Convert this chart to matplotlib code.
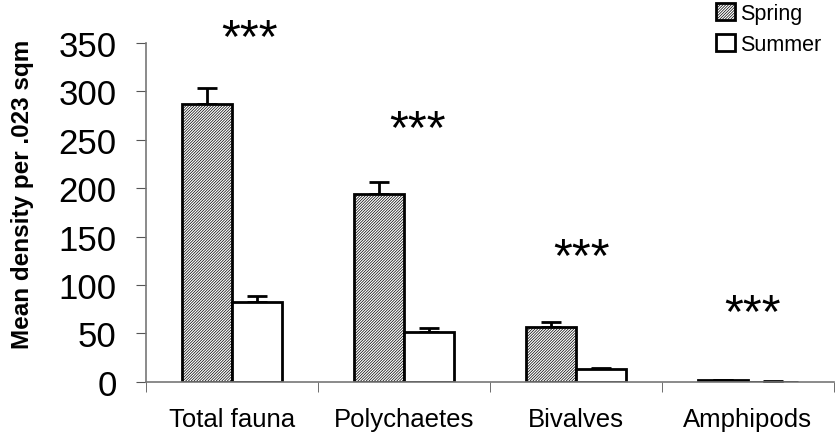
import matplotlib
matplotlib.use("Agg")
import matplotlib.pyplot as plt
import numpy as np

plt.rcParams['font.family'] = ['Liberation Sans', 'DejaVu Sans']
plt.rcParams['hatch.color'] = '#9a9a9a'
plt.rcParams['hatch.linewidth'] = 0.5

categories = ['Total fauna', 'Polychaetes', 'Bivalves', 'Amphipods']
spring = [287, 194, 57, 1.5]
spring_err = [16, 12.5, 5, 0.4]
summer = [82.5, 51, 13, 0.3]
summer_err = [6.5, 5, 1.5, 0.2]
# significance stars: position along the category axis and height
star_x = [0.105, 1.08, 2.035, 3.03]
star_y = [354, 261, 128, 71]

x = np.arange(len(categories))
w = 0.29

fig = plt.figure(figsize=(8.38, 4.39), dpi=100)
ax = fig.add_axes([0.174, 0.128, 0.821, 0.772])

ax.bar(x - w / 2, spring, w, color='white', edgecolor='black', linewidth=2,
       hatch='/' * 12, label='Spring', zorder=2)
ax.bar(x + w / 2, summer, w, color='white', edgecolor='black', linewidth=2,
       label='Summer', zorder=2)
ax.errorbar(x - w / 2, spring, yerr=[np.zeros(4), spring_err], fmt='none',
            ecolor='black', elinewidth=2, capsize=7, capthick=2, zorder=1)
ax.errorbar(x + w / 2, summer, yerr=[np.zeros(4), summer_err], fmt='none',
            ecolor='black', elinewidth=2, capsize=7, capthick=2, zorder=1)

for xs, ys in zip(star_x, star_y):
    ax.text(xs, ys, '***', ha='center', va='center', fontsize=35,
            clip_on=False)

ax.set_xlim(-0.5, 3.5)
ax.set_ylim(0, 350)
ax.set_yticks(np.arange(0, 351, 50))
ax.tick_params(axis='y', labelsize=25, length=7, color='#555555', pad=14)
ax.set_xticks(x)
ax.set_xticklabels(categories, fontsize=18.5)
ax.tick_params(axis='x', which='major', length=0, pad=18)
ax.set_xticks(np.arange(-0.5, 4, 1), minor=True)
ax.tick_params(axis='x', which='minor', length=7, color='#555555')
ax.set_ylabel('Mean density per .023 sqm', fontsize=17.5, fontweight='bold',
              va='center')
ax.yaxis.set_label_coords(-0.179, 0.555)

for s in ['top', 'right']:
    ax.spines[s].set_visible(False)
for s in ['left', 'bottom']:
    ax.spines[s].set_color('#777777')
    ax.spines[s].set_linewidth(1.2)

fig.legend(*ax.get_legend_handles_labels(), loc='upper left',
           bbox_to_anchor=(712 / 838, 1.0), frameon=False, fontsize=15.5,
           handlelength=0.85, handleheight=0.85, handletextpad=0.25,
           labelspacing=0.45, borderpad=0.2, borderaxespad=0)

fig.savefig('out.png', dpi=100)
